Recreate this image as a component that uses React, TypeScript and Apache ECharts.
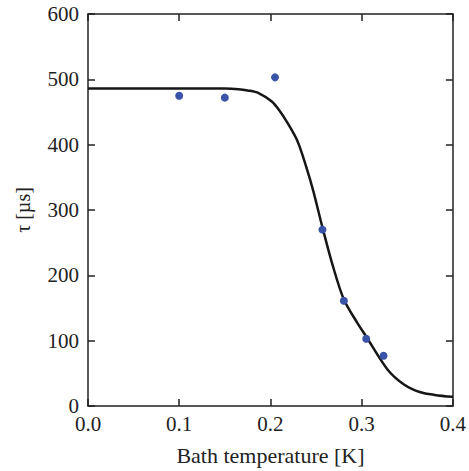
import React, { useEffect, useRef } from "react";
import * as echarts from "echarts";

const pointT = [0.1, 0.15, 0.205, 0.257, 0.2805, 0.305, 0.324];
const pointTau = [475, 472, 503, 270, 161, 103, 77];

const curveT = [0, 0.05, 0.1, 0.15, 0.165, 0.175, 0.187, 0.2015, 0.21, 0.218, 0.2298, 0.2395, 0.2468, 0.2569, 0.2685, 0.2805, 0.2949, 0.3051, 0.3283, 0.3464, 0.3645, 0.38, 0.4];
const curveTau = [486, 486, 486, 486, 485, 483, 479, 466, 452, 435, 405, 365, 330, 274, 214, 163, 128, 106, 56, 33, 21, 17, 14];

const xTicks = [0, 0.1, 0.2, 0.3, 0.4];
const yTicks = [0, 100, 200, 300, 400, 500, 600];

const FONT = "Liberation Serif";
const AX = "#222";

export default function App() {
  const ref = useRef<HTMLDivElement>(null);
  useEffect(() => {
    if (!ref.current) return;
    const chart = echarts.init(ref.current, undefined, { renderer: "svg" });
    const axisCommon = {
      axisLine: { show: true, onZero: false, lineStyle: { color: AX, width: 1.5 } },
      axisTick: { show: true, inside: true, length: 7, lineStyle: { color: AX, width: 1.5 } },
      splitLine: { show: false },
    };
    chart.setOption({
      animation: false,
      backgroundColor: "#fff",
      grid: { left: 88, right: 13, top: 14, bottom: 64, containLabel: false },
      xAxis: [
        {
          type: "value",
          min: xTicks[0],
          max: xTicks[xTicks.length - 1],
          interval: 0.1,
          position: "bottom",
          name: "Bath temperature [K]",
          nameLocation: "middle",
          nameGap: 38,
          nameTextStyle: { fontFamily: FONT, fontSize: 22, color: "#222" },
          axisLabel: {
            fontFamily: FONT,
            fontSize: 21,
            color: "#222",
            margin: 7,
            formatter: (v: number) => v.toFixed(1),
          },
          ...axisCommon,
        },
        {
          type: "value",
          min: xTicks[0],
          max: xTicks[xTicks.length - 1],
          interval: 0.1,
          position: "top",
          axisLabel: { show: false },
          ...axisCommon,
        },
      ],
      yAxis: [
        {
          type: "value",
          min: yTicks[0],
          max: yTicks[yTicks.length - 1],
          interval: 100,
          position: "left",
          name: "τ [µs]",
          nameLocation: "middle",
          nameGap: 55,
          nameRotate: 90,
          nameTextStyle: { fontFamily: FONT, fontSize: 20, color: "#222" },
          axisLabel: { fontFamily: FONT, fontSize: 21, color: "#222", margin: 9 },
          ...axisCommon,
        },
        {
          type: "value",
          min: yTicks[0],
          max: yTicks[yTicks.length - 1],
          interval: 100,
          position: "right",
          axisLabel: { show: false },
          ...axisCommon,
        },
      ],
      series: [
        {
          type: "line",
          data: curveT.map((t, i) => [t, curveTau[i]]),
          smooth: 0.3,
          showSymbol: false,
          lineStyle: { color: "#161616", width: 2.5 },
          z: 2,
        },
        {
          type: "scatter",
          data: pointT.map((t, i) => [t, pointTau[i]]),
          symbolSize: 8,
          itemStyle: { color: "#3953a8", opacity: 1 },
          z: 3,
        },
      ],
    });
    return () => chart.dispose();
  }, []);
  return <div ref={ref} style={{ width: 469, height: 471, position: "absolute", left: 0, top: 0 }} />;
}
